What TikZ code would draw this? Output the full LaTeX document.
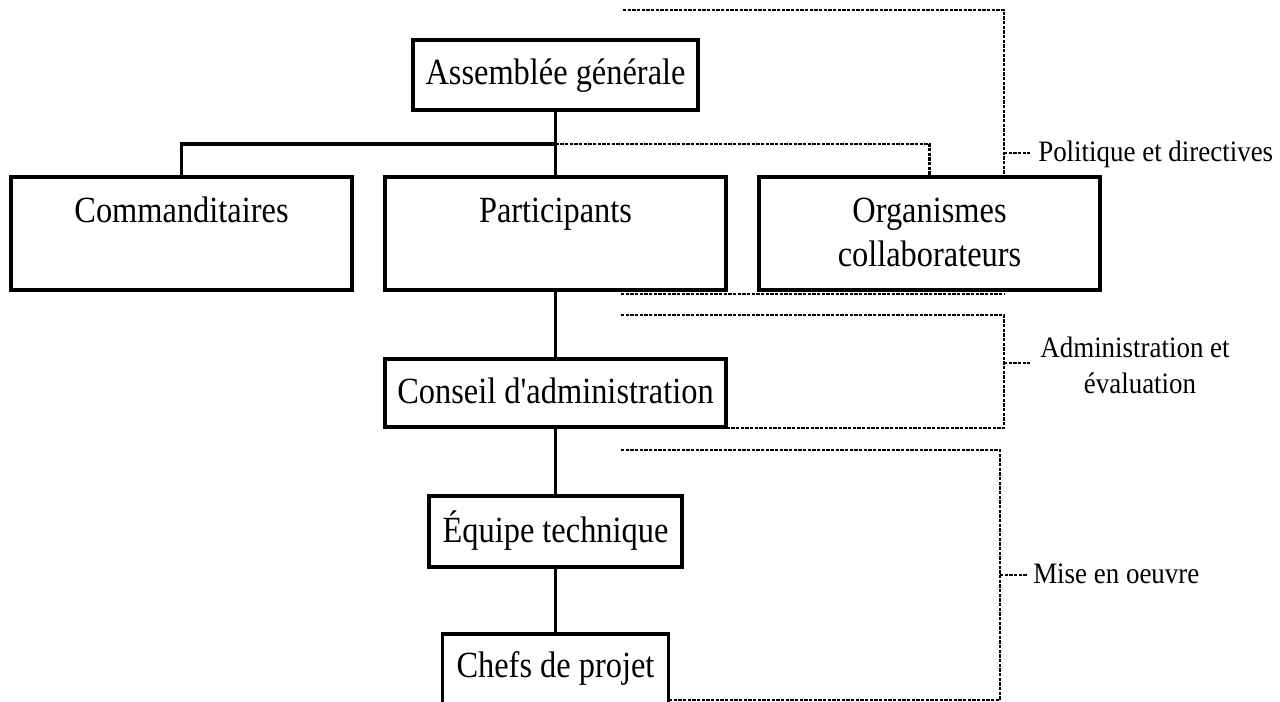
\documentclass[tikz,border=0pt]{standalone}
\usepackage{fontspec}
\usepackage{graphicx}
\setmainfont{Liberation Serif}
\newcommand{\tallbox}[1]{\scalebox{1}[1.14]{#1}}
\newcommand{\tallsmall}[1]{\scalebox{1}[1.1]{#1}}
\begin{document}
\begin{tikzpicture}[x=0.75pt,y=-0.75pt,
  box/.style={draw, line width=2.5pt, fill=white, inner sep=0pt},
  conn/.style={line width=2.5pt},
  dots/.style={line width=2pt, dash pattern=on 2.6pt off 0.9pt},
  boxtext/.style={font=\fontsize{24.3}{29}\selectfont, anchor=base, inner sep=0pt},
  labtext/.style={font=\fontsize{20.2}{24}\selectfont, anchor=base west, inner sep=0pt},
  labc/.style={font=\fontsize{20.2}{24}\selectfont, anchor=base, inner sep=0pt}]
\useasboundingbox (0,0) rectangle (1280,702);

% boxes
\node[box, minimum width=285pt*0.75, minimum height=70pt*0.75] (ag) at (555.5,75) {};
\node[box, minimum width=341pt*0.75, minimum height=113pt*0.75] (com) at (181.5,233.5) {};
\node[box, minimum width=341pt*0.75, minimum height=113pt*0.75] (par) at (555.5,233.5) {};
\node[box, minimum width=341pt*0.75, minimum height=113pt*0.75] (org) at (929.5,233.5) {};
\node[box, minimum width=341pt*0.75, minimum height=68pt*0.75] (ca) at (555.5,393) {};
\node[box, minimum width=253pt*0.75, minimum height=71pt*0.75] (eq) at (555.5,531.5) {};
\node[box, minimum width=226pt*0.75, minimum height=76pt*0.75] (ch) at (555.5,672) {};

% box texts
\node[boxtext] (ag-t) at (555.5,85) {\tallbox{Assemblée générale}};
\node[boxtext] (com-t) at (181.5,223) {\tallbox{Commanditaires}};
\node[boxtext] (par-t) at (555.5,223) {\tallbox{Participants}};
\node[boxtext] (org-t1) at (929.5,223) {\tallbox{Organismes}};
\node[boxtext] (org-t2) at (929.5,267) {\tallbox{collaborateurs}};
\node[boxtext] (ca-t) at (555.5,403) {\tallbox{Conseil d\textquotesingle administration}};
\node[boxtext] (eq-t) at (555.5,542) {\tallbox{Équipe technique}};
\node[boxtext] (ch-t) at (555.5,677) {\tallbox{Chefs de projet}};

% solid connectors
\coordinate (j) at (555.5,144);
\draw[conn] (ag.south) -- (par.north);
\draw[conn] (j) -| (com.north);
\draw[conn] (par.south) -- (ca.north);
\draw[conn] (ca.south) -- (eq.north);
\draw[conn] (eq.south) -- (ch.north);

% dotted connectors
\draw[dots] (j) -| (org.north);

\coordinate (p1) at (623,10);
\coordinate (p2) at (1004,10);
\draw[dots] (p1) -- (p2) -- (p2 |- org.north);
\coordinate (s1) at (1004,153);
\coordinate (s1e) at (1030,153);
\draw[dots] (s1) -- (s1e);

\coordinate (a1) at (621,294);
\coordinate (a2) at (1004,294);
\draw[dots] (a1) -- (a2);

\coordinate (b1) at (621,315);
\coordinate (b2) at (1004,315);
\coordinate (b3) at (1004,428);
\coordinate (b4) at (621,428);
\draw[dots] (b1) -- (b2) -- (b3) -- (b4);
\coordinate (s2) at (1004,363);
\coordinate (s2e) at (1030,363);
\draw[dots] (s2) -- (s2e);

\coordinate (c1) at (621,450);
\coordinate (c2) at (1000,450);
\coordinate (c3) at (1000,700);
\coordinate (c4) at (669,700);
\draw[dots] (c1) -- (c2) -- (c3) -- (c4);
\coordinate (s3) at (1000,575);
\coordinate (s3e) at (1027,575);
\draw[dots] (s3) -- (s3e);

% labels
\node[labtext] (l1) at (1038,162) {\tallsmall{Politique et directives}};
\node[labc] (l2a) at (1135,357) {\tallsmall{Administration et}};
\node[labc] (l2b) at (1140,393) {\tallsmall{évaluation}};
\node[labtext] (l3) at (1033,583) {\tallsmall{Mise en oeuvre}};
\end{tikzpicture}
\end{document}
